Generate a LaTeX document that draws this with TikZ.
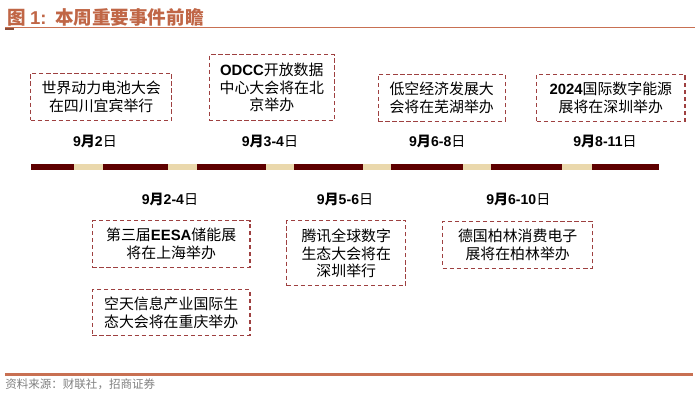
\documentclass[tikz,border=0pt]{standalone}
\usepackage{fontspec}
\setmainfont{Liberation Sans}
\newfontfamily\cjk{Noto Sans CJK SC}
\newfontfamily\lat{Liberation Sans}
\usepackage{xcolor}
\usetikzlibrary{positioning}
\definecolor{TitleOrange}{RGB}{192,102,70}
\definecolor{RuleOrange}{RGB}{200,112,82}
\definecolor{BoxRed}{RGB}{158,64,64}
\definecolor{BarDark}{RGB}{94,0,0}
\definecolor{BarLight}{RGB}{234,216,172}
\newcommand{\dday}[2]{{\bfseries #1}{\cjk\bfseries 月}{\bfseries #2}{\cjk 日}}

\begin{document}
\begin{tikzpicture}[
    x=0.025cm, y=-0.025cm,
    ev/.style={draw=BoxRed, densely dashed, line width=0.8pt, align=center,
               font=\cjk\fontsize{10.6}{12.6}\selectfont, inner sep=0pt},
    ev2/.style={ev, minimum height=1.17cm},
    ev3/.style={ev, minimum height=1.63cm},
    datelbl/.style={font=\fontsize{10}{12}\selectfont},
    seg/.style={fill=BarDark},
    gap/.style={fill=BarLight}
  ]
  \useasboundingbox (0,0) rectangle (700,402);

  % Titel und Linien
  \node[anchor=west, text=TitleOrange, font=\cjk\bfseries\fontsize{13.2}{15}\selectfont, inner sep=0pt]
    (title) at (7,17) {图 {\lat\bfseries 1:}\ \ 本周重要事件前瞻};
  \draw[RuleOrange, line width=0.6pt] (5,27.5) -- (695,27.5);
  \draw[RuleOrange!70!black, line width=1.2pt] (5,29) -- (14,29);
  \draw[RuleOrange, line width=1.6pt] (5,374.5) -- (693,374.5);
  \node[anchor=west, text=gray, font=\cjk\fontsize{8.2}{10}\selectfont, inner sep=0pt]
    (source) at (5,384) {资料来源：财联社，招商证券};

  % Zeitleiste
  \foreach \a/\b in {30.7/74, 102.7/168.3, 196.7/265.7, 294.3/362.7, 391/462.7, 491/561.7, 592.3/659}{
    \fill[seg] (\a,163.5) rectangle (\b,169.5);
  }
  \foreach \a/\b in {74/102.7, 168.3/196.7, 265.7/294.3, 362.7/391, 462.7/491, 561.7/592.3}{
    \fill[gap] (\a,163.5) rectangle (\b,169.5);
  }

  % Obere Reihe
  \node[ev2, minimum width=3.53cm] (e1) at (101.2,96.7) {世界动力电池大会\\在四川宜宾举行};
  \node[ev3, minimum width=3.13cm] (e2) at (271.8,87.5) {{\lat\bfseries ODCC}开放数据\\中心大会将在北\\京举办};
  \node[ev2, minimum width=3.17cm] (e3) at (441.7,97.7) {低空经济发展大\\会将在芜湖举办};
  \node[ev2, minimum width=3.71cm] (e4) at (610.8,97.7) {{\lat\bfseries 2024}国际数字能源\\展将在深圳举办};

  \node[datelbl] (d1) at (95,141) {\dday{9}{2}};
  \node[datelbl] (d2) at (270,141) {\dday{9}{3-4}};
  \node[datelbl] (d3) at (437.3,141) {\dday{9}{6-8}};
  \node[datelbl] (d4) at (605,141) {\dday{9}{8-11}};

  % Untere Reihe
  \node[datelbl] (d5) at (170,199) {\dday{9}{2-4}};
  \node[datelbl] (d6) at (345,199) {\dday{9}{5-6}};
  \node[datelbl] (d7) at (518.3,199) {\dday{9}{6-10}};

  \node[ev2, minimum width=3.94cm] (e5) at (171.2,244) {第三届{\lat\bfseries EESA}储能展\\将在上海举办};
  \node[ev, minimum width=3.94cm, minimum height=1.13cm] (e6) at (171.2,312.5) {空天信息产业国际生\\态大会将在重庆举办};
  \node[ev3, minimum width=2.98cm] (e7) at (346.3,253.3) {腾讯全球数字\\生态大会将在\\深圳举行};
  \node[ev2, minimum width=3.75cm] (e8) at (517.7,244.7) {德国柏林消费电子\\展将在柏林举办};

\end{tikzpicture}
\end{document}
